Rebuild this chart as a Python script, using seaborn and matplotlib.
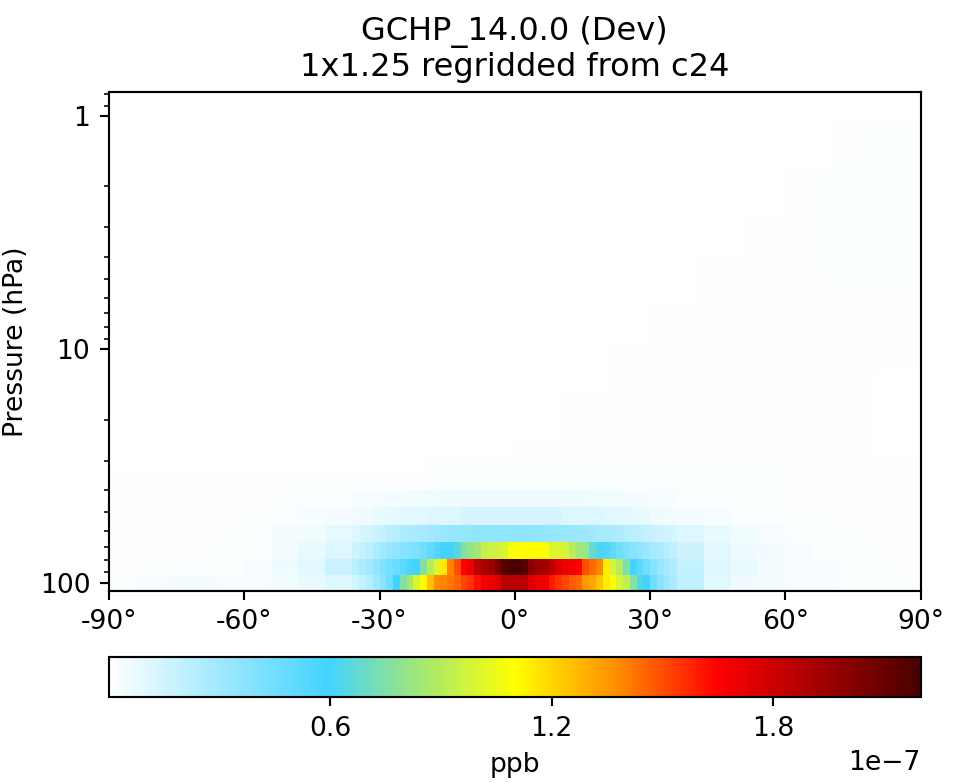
"""
Zonal mean of GCHP 14.0.0 (Dev), 1x1.25 regridded from c24,
log pressure axis with a horizontal colorbar below.
"""

import numpy as np
import matplotlib
matplotlib.use("Agg")
import matplotlib.pyplot as plt
from matplotlib.colors import LinearSegmentedColormap, Normalize
from matplotlib.ticker import ScalarFormatter, NullFormatter
import seaborn as sns

# =========================
# Data (values in units of 1e-7 ppb)
# =========================

# latitude bins for the lowest six levels: 6 deg poleward of 36, 1.5 deg inside
lat_edges_fine = np.concatenate([np.linspace(-90, -36, 10),
                                 np.linspace(-36, 36, 49)[1:],
                                 np.linspace(36, 90, 10)[1:]])
# 10-degree latitude bins for the faint upper levels
lat_edges_coarse = np.linspace(-90, 90, 19)

# level edges (hPa), bottom to top
pres_edges_low = [108.2, 92.7, 79.2, 67.0, 56.7, 47.5, 40.2]
pres_edges_up = [40.2, 34.0, 28.5, 23.9, 18.9, 15.0, 12.4, 9.66, 7.78, 6.39,
                 5.10, 4.11, 3.34, 2.64, 2.10, 1.70, 1.31, 1.04, 0.79]

# each level: 9 bins (-90..-36), 48 bins (-36..36), 9 bins (36..90)
lev1 = [0.02, 0.03, 0.04, 0.04, 0.03, 0.03, 0.05, 0.07, 0.11,
        0.15, 0.19, 0.24, 0.30, 0.37, 0.45, 0.60, 0.75,
        0.85, 1.00, 1.10, 1.25, 1.38, 1.40, 1.42, 1.46,
        1.52, 1.55, 1.62, 1.68, 1.70, 1.74, 1.85, 1.86,
        1.86, 1.85, 1.75, 1.70, 1.68, 1.60, 1.55, 1.52,
        1.47, 1.45, 1.35, 1.32, 1.25, 1.15, 1.10, 0.98,
        0.92, 0.78, 0.65, 0.60, 0.45, 0.38, 0.32, 0.27,
        0.20, 0.10, 0.06, 0.04, 0.03, 0.03, 0.02, 0.02, 0.02]
lev2 = [0.01, 0.01, 0.02, 0.02, 0.02, 0.03, 0.06, 0.10, 0.17,
        0.22, 0.26, 0.30, 0.35, 0.40, 0.44, 0.48, 0.52,
        0.56, 0.60, 0.75, 0.90, 1.00, 1.15, 1.40, 1.50,
        1.65, 1.70, 1.85, 1.90, 1.95, 2.05, 2.15, 2.20,
        2.20, 2.15, 2.00, 1.95, 1.92, 1.85, 1.75, 1.70,
        1.68, 1.65, 1.50, 1.45, 1.40, 1.15, 0.98, 0.90,
        0.75, 0.60, 0.52, 0.44, 0.38, 0.33, 0.29, 0.25,
        0.19, 0.12, 0.07, 0.04, 0.03, 0.03, 0.02, 0.02, 0.01]
lev3 = [0.01, 0.01, 0.01, 0.01, 0.02, 0.02, 0.04, 0.07, 0.12,
        0.16, 0.19, 0.22, 0.26, 0.30, 0.33, 0.36, 0.38,
        0.40, 0.42, 0.45, 0.50, 0.55, 0.60, 0.60, 0.65,
        0.75, 0.80, 0.85, 0.93, 0.95, 0.97, 1.00, 1.08,
        1.10, 1.10, 1.10, 1.10, 1.08, 1.00, 1.00, 0.98,
        0.90, 0.85, 0.82, 0.68, 0.62, 0.55, 0.50, 0.45,
        0.42, 0.38, 0.35, 0.32, 0.29, 0.26, 0.23, 0.20,
        0.16, 0.10, 0.06, 0.04, 0.03, 0.02, 0.02, 0.01, 0.01]
lev4 = [0.01, 0.01, 0.01, 0.01, 0.01, 0.02, 0.035, 0.05, 0.08,
        0.11, 0.13, 0.15, 0.17, 0.19, 0.21, 0.24, 0.26,
        0.27, 0.28, 0.29, 0.30, 0.31, 0.32, 0.33, 0.34,
        0.34, 0.34, 0.35, 0.35, 0.35, 0.35, 0.35, 0.35,
        0.35, 0.35, 0.35, 0.35, 0.34, 0.34, 0.33, 0.33,
        0.32, 0.32, 0.31, 0.30, 0.29, 0.28, 0.27, 0.25,
        0.24, 0.22, 0.21, 0.19, 0.18, 0.16, 0.15, 0.14,
        0.11, 0.07, 0.05, 0.03, 0.02, 0.02, 0.01, 0.01, 0.01]
lev5 = [0.01, 0.01, 0.01, 0.01, 0.01, 0.01, 0.02, 0.03, 0.04,
        0.05, 0.06, 0.06, 0.07, 0.07, 0.08, 0.08, 0.09,
        0.09, 0.10, 0.10, 0.11, 0.11, 0.12, 0.12, 0.12,
        0.13, 0.13, 0.13, 0.13, 0.13, 0.13, 0.13, 0.13,
        0.13, 0.13, 0.13, 0.13, 0.13, 0.13, 0.13, 0.12,
        0.12, 0.12, 0.12, 0.11, 0.11, 0.10, 0.10, 0.09,
        0.09, 0.08, 0.07, 0.07, 0.06, 0.06, 0.05, 0.05,
        0.04, 0.03, 0.02, 0.02, 0.01, 0.01, 0.01, 0.01, 0.01]
lev6 = [0.01, 0.01, 0.01, 0.01, 0.01, 0.01, 0.01, 0.02, 0.02,
        0.03, 0.03, 0.03, 0.03, 0.04, 0.04, 0.04, 0.04,
        0.04, 0.05, 0.05, 0.05, 0.05, 0.06, 0.06, 0.06,
        0.06, 0.06, 0.06, 0.06, 0.06, 0.06, 0.06, 0.06,
        0.06, 0.06, 0.06, 0.06, 0.06, 0.06, 0.06, 0.06,
        0.06, 0.06, 0.06, 0.05, 0.05, 0.05, 0.05, 0.05,
        0.04, 0.04, 0.04, 0.04, 0.03, 0.03, 0.03, 0.03,
        0.02, 0.02, 0.02, 0.01, 0.01, 0.01, 0.01, 0.01, 0.01]

# faint upper levels, 10-degree bins from -90 to 90
up01 = [0.01, 0.01, 0.01, 0.01, 0.01, 0.01, 0.01, 0.02, 0.02, 0.025, 0.025, 0.025, 0.025, 0.02, 0.02, 0.01, 0.01, 0.01]
up02 = [0.00, 0.00, 0.00, 0.00, 0.00, 0.00, 0.00, 0.01, 0.01, 0.015, 0.015, 0.015, 0.015, 0.015, 0.015, 0.015, 0.01, 0.01]
up03 = [0.00, 0.00, 0.00, 0.00, 0.00, 0.00, 0.00, 0.00, 0.00, 0.01, 0.01, 0.01, 0.015, 0.015, 0.015, 0.01, 0.01, 0.00]
up04 = [0.00, 0.00, 0.00, 0.00, 0.00, 0.00, 0.00, 0.00, 0.00, 0.00, 0.01, 0.01, 0.015, 0.015, 0.015, 0.01, 0.01, 0.00]
up05 = [0.00, 0.00, 0.00, 0.00, 0.00, 0.00, 0.00, 0.00, 0.00, 0.00, 0.01, 0.01, 0.015, 0.015, 0.015, 0.015, 0.01, 0.00]
up06 = [0.00, 0.00, 0.00, 0.00, 0.00, 0.00, 0.00, 0.00, 0.00, 0.00, 0.00, 0.01, 0.015, 0.015, 0.015, 0.015, 0.01, 0.00]
up07 = [0.00, 0.00, 0.00, 0.00, 0.00, 0.00, 0.00, 0.00, 0.00, 0.00, 0.00, 0.01, 0.01, 0.015, 0.015, 0.015, 0.01, 0.01]
up08 = [0.00, 0.00, 0.00, 0.00, 0.00, 0.00, 0.00, 0.00, 0.00, 0.00, 0.00, 0.00, 0.01, 0.015, 0.015, 0.015, 0.015, 0.01]
up09 = [0.00, 0.00, 0.00, 0.00, 0.00, 0.00, 0.00, 0.00, 0.00, 0.00, 0.00, 0.00, 0.01, 0.01, 0.015, 0.015, 0.015, 0.01]
up10 = [0.00, 0.00, 0.00, 0.00, 0.00, 0.00, 0.00, 0.00, 0.00, 0.00, 0.00, 0.00, 0.00, 0.01, 0.015, 0.015, 0.015, 0.015]
up11 = [0.00, 0.00, 0.00, 0.00, 0.00, 0.00, 0.00, 0.00, 0.00, 0.00, 0.00, 0.00, 0.00, 0.01, 0.015, 0.015, 0.02, 0.02]
up12 = [0.00, 0.00, 0.00, 0.00, 0.00, 0.00, 0.00, 0.00, 0.00, 0.00, 0.00, 0.00, 0.00, 0.00, 0.01, 0.015, 0.02, 0.02]
up13 = [0.00, 0.00, 0.00, 0.00, 0.00, 0.00, 0.00, 0.00, 0.00, 0.00, 0.00, 0.00, 0.00, 0.00, 0.01, 0.015, 0.02, 0.02]
up14 = [0.00, 0.00, 0.00, 0.00, 0.00, 0.00, 0.00, 0.00, 0.00, 0.00, 0.00, 0.00, 0.00, 0.00, 0.00, 0.01, 0.02, 0.02]
up15 = [0.00, 0.00, 0.00, 0.00, 0.00, 0.00, 0.00, 0.00, 0.00, 0.00, 0.00, 0.00, 0.00, 0.00, 0.00, 0.01, 0.02, 0.02]
up16 = [0.00, 0.00, 0.00, 0.00, 0.00, 0.00, 0.00, 0.00, 0.00, 0.00, 0.00, 0.00, 0.00, 0.00, 0.00, 0.00, 0.015, 0.02]
up17 = [0.00, 0.00, 0.00, 0.00, 0.00, 0.00, 0.00, 0.00, 0.00, 0.00, 0.00, 0.00, 0.00, 0.00, 0.00, 0.00, 0.015, 0.02]
up18 = [0.00, 0.00, 0.00, 0.00, 0.00, 0.00, 0.00, 0.00, 0.00, 0.00, 0.00, 0.00, 0.00, 0.00, 0.00, 0.00, 0.00, 0.00]

lat_ticks = [-90, -60, -30, 0, 30, 60, 90]
lat_labels = ["-90°", "-60°", "-30°", "0°", "30°", "60°", "90°"]
cbar_ticks = [0.6e-7, 1.2e-7, 1.8e-7]
vmin, vmax = 0.0, 2.2e-7

# =========================
# Style
# =========================

sns.set_style("ticks", {"axes.edgecolor": "black", "xtick.color": "black",
                        "ytick.color": "black", "text.color": "black",
                        "axes.labelcolor": "black"})
plt.rcParams["font.family"] = ["DejaVu Sans"]
plt.rcParams["font.size"] = 10

# white -> blue -> green -> yellow -> red -> dark red
cmap = LinearSegmentedColormap.from_list(
    "WhGrYlRd",
    [(0.00, "#ffffff"), (0.27, "#43d3ff"), (0.36, "#90e38f"),
     (0.50, "#ffff00"), (0.63, "#ff8a00"), (0.75, "#ff0000"),
     (1.00, "#4a0000")])
norm = Normalize(vmin=vmin, vmax=vmax)

low_vals = np.array([lev1, lev2, lev3, lev4, lev5, lev6]) * 1e-7
up_vals = np.array([up01, up02, up03, up04, up05, up06, up07, up08, up09,
                    up10, up11, up12, up13, up14, up15, up16, up17, up18]) * 1e-7

# =========================
# Figure
# =========================

fig = plt.figure(figsize=(961 / 192, 783 / 192), dpi=192)
ax = fig.add_axes([0.1134, 0.2456, 0.8446, 0.6365])
cax = fig.add_axes([0.1134, 0.1098, 0.8446, 0.0511])

mesh = ax.pcolormesh(lat_edges_fine, pres_edges_low, low_vals,
                     cmap=cmap, norm=norm, shading="flat")
ax.pcolormesh(lat_edges_coarse, pres_edges_up, up_vals,
              cmap=cmap, norm=norm, shading="flat")

ax.set_yscale("log")
ax.set_ylim(pres_edges_low[0], pres_edges_up[-1])
ax.yaxis.set_major_formatter(ScalarFormatter())
ax.yaxis.set_minor_formatter(NullFormatter())
ax.set_xlim(-90, 90)
ax.set_xticks(lat_ticks)
ax.set_xticklabels(lat_labels)
ax.set_ylabel("Pressure (hPa)")
ax.set_title("GCHP_14.0.0 (Dev)\n1x1.25 regridded from c24", fontsize=12)

cbar = fig.colorbar(mesh, cax=cax, orientation="horizontal", ticks=cbar_ticks)
cbar.set_label("ppb")

fig.savefig("out.png", dpi=192)
